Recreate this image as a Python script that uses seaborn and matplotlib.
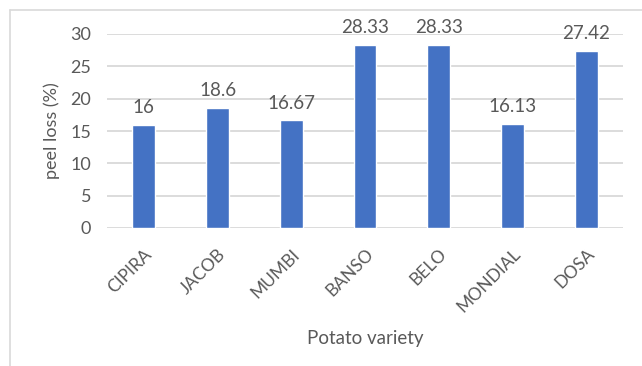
import matplotlib
matplotlib.use("Agg")
import matplotlib.pyplot as plt
import seaborn as sns
import pandas as pd
from matplotlib.lines import Line2D

varieties = ["CIPIRA", "JACOB", "MUMBI", "BANSO", "BELO", "MONDIAL", "DOSA"]
peel_loss = [16, 18.6, 16.67, 28.33, 28.33, 16.13, 27.42]
value_labels = ["16", "18.6", "16.67", "28.33", "28.33", "16.13", "27.42"]
y_ticks = [0, 5, 10, 15, 20, 25, 30]

sns.set_theme(style="white")
plt.rcParams['font.family'] = ['Lato', 'DejaVu Sans']

text_color = "#595959"
bar_color = "#4472C4"
grid_color = "#D9D9D9"

df = pd.DataFrame({"variety": varieties, "loss": peel_loss})

fig = plt.figure(figsize=(6.42, 3.66), dpi=100)
ax = fig.add_axes([107/642, 1 - 228/366, (623 - 107)/642, (228 - 34)/366])

sns.barplot(data=df, x="variety", y="loss", color=bar_color, width=0.31,
            saturation=1, ax=ax, zorder=3)

ax.set_ylim(0, 30)
ax.set_yticks(y_ticks)
ax.set_yticklabels([str(t) for t in y_ticks], fontsize=13, color=text_color)
ax.yaxis.grid(True, color=grid_color, linewidth=1.3, zorder=0)
ax.set_axisbelow(True)
for s in ax.spines.values():
    s.set_visible(False)
ax.tick_params(axis="both", length=0)
ax.tick_params(axis="y", pad=11.5)

ax.set_xticks(range(len(varieties)))
ax.set_xticklabels(varieties, rotation=45, ha="right", rotation_mode="anchor",
                   fontsize=12.5, color=text_color)
ax.tick_params(axis="x", pad=13)

for i, (v, lab) in enumerate(zip(peel_loss, value_labels)):
    ax.annotate(lab, (i, v), xytext=(0, 6), textcoords="offset points",
                ha="center", va="bottom", fontsize=13.5, color=text_color)

ax.set_ylabel("peel loss (%)", fontsize=13, color=text_color, labelpad=7)
ax.set_xlabel("Potato variety", fontsize=13.5, color=text_color, labelpad=10)

# outer chart border (light gray)
fig.add_artist(Line2D([10/642, 10/642], [0, 1 - 10/366], transform=fig.transFigure,
                      color="#D9D9D9", linewidth=1.2))
fig.add_artist(Line2D([10/642, 1], [1 - 10/366, 1 - 10/366], transform=fig.transFigure,
                      color="#D9D9D9", linewidth=1.2))

fig.savefig("out.png", dpi=100, facecolor="white")
